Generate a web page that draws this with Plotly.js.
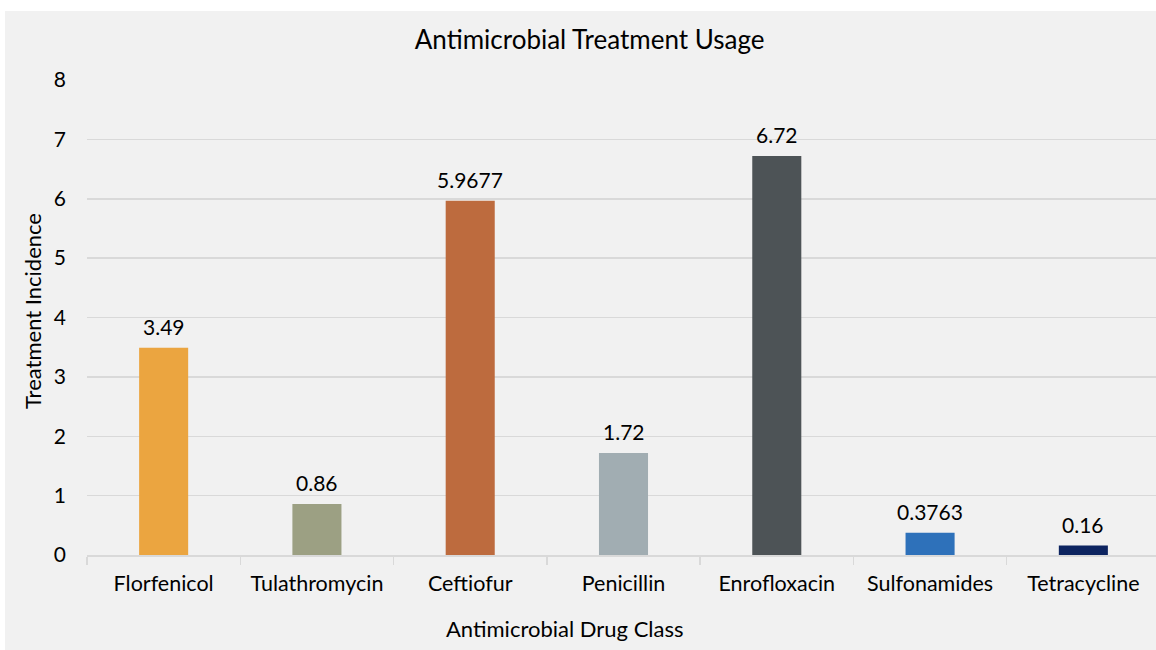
<!DOCTYPE html>
<html><head>
<script src="https://cdn.plot.ly/plotly-3.0.1.min.js"></script>
<style>
html,body{margin:0;padding:0;background:#fff;overflow:hidden;width:1156px;height:650px;}
#chart{position:absolute;left:5px;top:11px;width:1160px;height:639px;}
</style>
</head><body>
<div id="chart"></div>
<script>
const categories = ["Florfenicol","Tulathromycin","Ceftiofur","Penicillin","Enrofloxacin","Sulfonamides","Tetracycline"];
const values = [3.49, 0.86, 5.9677, 1.72, 6.72, 0.3763, 0.16];
const labels = ["3.49","0.86","5.9677","1.72","6.72","0.3763","0.16"];
const colors = ["#EBA540","#9CA083","#BD6B3E","#A1ADB2","#4D5356","#2E71BA","#0D2460"];
const yTicks = [0,1,2,3,4,5,6,7,8];

const FONT = "Lato, 'Open Sans', sans-serif";

const valueLabels = categories.map((c, i) => ({
  x: c, y: values[i], xref: 'x', yref: 'y', text: labels[i],
  showarrow: false, yanchor: 'bottom', xanchor: 'center', yshift: 7,
  font: {family: FONT, size: 21, color: '#000'}
}));

Plotly.newPlot('chart', [{
  type: 'bar',
  x: categories,
  y: values,
  marker: {color: colors},
  hoverinfo: 'skip'
}], {
  width: 1160, height: 639,
  margin: {l: 82, r: 5, t: 69, b: 95},
  paper_bgcolor: '#f1f1f1',
  plot_bgcolor: '#f1f1f1',
  bargap: 0.68,
  showlegend: false,
  font: {family: FONT, color: '#000'},
  title: {text: 'Antimicrobial Treatment Usage', x: 0.504, xref: 'container', xanchor: 'center', y: 0.955, yref: 'container', yanchor: 'middle', font: {family: FONT, size: 26, color: '#000'}},
  xaxis: {
    tickfont: {size: 21.5, family: FONT, color: '#000'},
    showline: true, linecolor: '#d9d9d9', linewidth: 1.5,
    ticks: 'outside', tickson: 'boundaries', ticklen: 8, tickcolor: '#d9d9d9', tickwidth: 1.3,
    ticklabelstandoff: 9,
    showgrid: false, fixedrange: true
  },
  yaxis: {
    range: [0, 8], tickvals: yTicks, ticktext: yTicks.map(String),
    tickfont: {size: 21, family: FONT, color: '#000'},
    gridcolor: '#d9d9d9', gridwidth: 1.5,
    zeroline: false, showline: false,
    ticks: '', ticklabelstandoff: 20,
    fixedrange: true
  },
  annotations: valueLabels.concat([{
    text: 'Antimicrobial Drug Class', xref: 'paper', yref: 'paper',
    x: 0.4455, y: -0.154, xanchor: 'center', yanchor: 'middle', showarrow: false,
    font: {size: 22, family: FONT, color: '#000'}
  }, {
    text: 'Treatment Incidence', xref: 'paper', yref: 'paper',
    x: -55/1073, y: (555-311)/475, xanchor: 'center', yanchor: 'middle', textangle: -90, showarrow: false,
    font: {size: 22, family: FONT, color: '#000'}
  }])
}, {displayModeBar: false, staticPlot: true});
</script>
</body></html>
